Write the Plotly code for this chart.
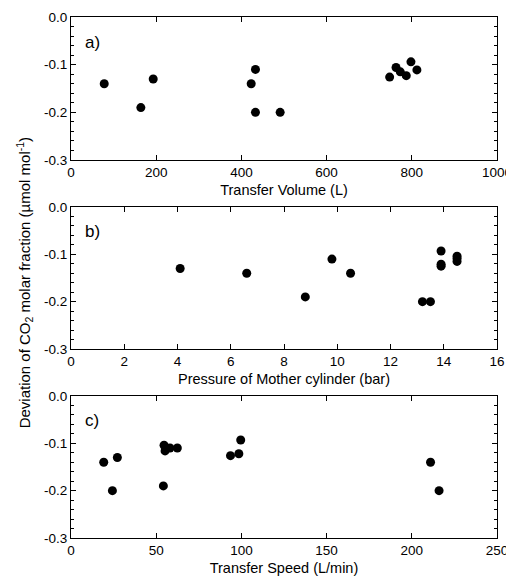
import plotly.graph_objects as go

# Panel a) deviation vs transfer volume
volume = [78, 164, 193, 423, 433, 433, 491, 748, 763, 773, 787, 798, 812]
dev_volume = [-0.14, -0.19, -0.13, -0.14, -0.11, -0.20, -0.20, -0.126, -0.106, -0.115, -0.123, -0.094, -0.111]

# Panel b) deviation vs mother cylinder pressure
pressure = [4.1, 6.6, 8.8, 9.8, 10.5, 13.2, 13.5, 13.9, 13.9, 13.9, 14.5, 14.5, 14.5]
dev_pressure = [-0.13, -0.14, -0.19, -0.11, -0.14, -0.20, -0.20, -0.093, -0.121, -0.125, -0.104, -0.109, -0.115]

# Panel c) deviation vs transfer speed
speed = [19.2, 24.3, 27.2, 54.2, 54.6, 55.2, 58.1, 62.4, 93.6, 98.5, 99.6, 211, 216]
dev_speed = [-0.14, -0.20, -0.13, -0.19, -0.104, -0.116, -0.11, -0.11, -0.126, -0.122, -0.093, -0.14, -0.20]

y_ticks = [0.0, -0.1, -0.2, -0.3]
y_ticktext = ["0.0", "-0.1", "-0.2", "-0.3"]

panels = [
    ("a)", volume, dev_volume, "Transfer Volume (L)", [0, 1000], 200, [0.7255, 1.0]),
    ("b)", pressure, dev_pressure, "Pressure of Mother cylinder (bar)", [0, 16], 2, [0.3628, 0.6353]),
    ("c)", speed, dev_speed, "Transfer Speed (L/min)", [0, 250], 50, [0.0, 0.2726]),
]

font_family = "Liberation Sans, Arial, sans-serif"
fig = go.Figure()
layout = {}

for i, (label, xs, ys, xtitle, xrange, dtick, dom) in enumerate(panels):
    n = "" if i == 0 else str(i + 1)
    fig.add_trace(go.Scatter(
        x=xs, y=ys, mode="markers",
        marker=dict(color="black", size=9),
        xaxis="x" + n, yaxis="y" + n, showlegend=False, cliponaxis=False,
    ))
    layout["xaxis" + n] = dict(
        domain=[0, 1], anchor="y" + n, range=xrange, dtick=dtick,
        showline=True, mirror="allticks", linecolor="black", linewidth=1,
        ticks="inside", ticklen=5, tickcolor="black", showgrid=False, zeroline=False,
        tickfont=dict(size=13.5, color="black"), automargin=False,
        title=dict(text=xtitle, font=dict(size=14.5, color="black"), standoff=5),
    )
    layout["yaxis" + n] = dict(
        domain=dom, anchor="x" + n, range=[-0.3, 0.0],
        tickvals=y_ticks, ticktext=y_ticktext, automargin=False,
        showline=True, mirror="allticks", linecolor="black", linewidth=1,
        ticks="inside", ticklen=5, tickcolor="black", showgrid=False, zeroline=False,
        minor=dict(dtick=0.02, ticks="inside", ticklen=3, tickcolor="black", showgrid=False),
        tickfont=dict(size=13.5, color="black"),
    )
    fig.add_annotation(
        text=label, xref="x" + n + " domain", yref="y" + n + " domain",
        x=0.028, y=0.825, xanchor="left", yanchor="middle", showarrow=False,
        font=dict(size=17, color="black"),
    )

fig.add_annotation(
    text="Deviation of CO<sub>2</sub> molar fraction (µmol mol<sup>-1</sup>)",
    xref="paper", yref="paper", x=-0.11, y=0.489, xanchor="center", yanchor="middle",
    textangle=-90, showarrow=False, font=dict(size=15, color="black"),
)

# the page adds an 8 px body margin, so the figure is 8 px smaller than the window
fig.update_layout(
    **layout,
    width=506, height=568,
    margin=dict(l=63, r=17, t=9, b=38, autoexpand=False),
    plot_bgcolor="white", paper_bgcolor="white",
    font=dict(family=font_family, color="black"),
)

fig.write_html("out.html")
